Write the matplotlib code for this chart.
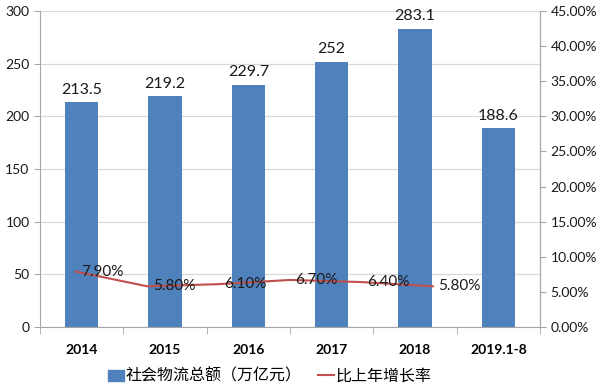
import matplotlib
matplotlib.use("Agg")
import matplotlib.pyplot as plt
from matplotlib.lines import Line2D
from matplotlib.patches import Patch
import numpy as np

plt.rcParams['font.family'] = ['Lato', 'Noto Sans CJK SC', 'DejaVu Sans']

categories = ['2014', '2015', '2016', '2017', '2018', '2019.1-8']
totals = [213.5, 219.2, 229.7, 252, 283.1, 188.6]
total_labels = ['213.5', '219.2', '229.7', '252', '283.1', '188.6']
growth = [7.90, 5.80, 6.10, 6.70, 6.40, 5.80]
bar_name = '社会物流总额（万亿元）'
line_name = '比上年增长率'

bar_color = '#4F81BD'
line_color = '#C0504D'
grid_color = '#D9D9D9'
axis_color = '#A6A6A6'

fig = plt.figure(figsize=(6, 3.9), dpi=100)
ax = fig.add_axes([40/600, 1-327/390, 500/600, 316/390])
x = np.arange(len(categories))
ax.bar(x, totals, width=0.4, color=bar_color, zorder=2)
for xi, v, lab in zip(x, totals, total_labels):
    ax.annotate(lab, (xi, v), xytext=(0, 4), textcoords='offset points',
                ha='center', va='bottom', fontsize=11.5, color='#1a1a1a')
ax.set_xlim(-0.5, len(categories)-0.5)
ax.set_ylim(0, 300)
ax.set_yticks(range(0, 301, 50))
ax.yaxis.grid(True, color=grid_color, lw=0.9, zorder=0)
ax.set_axisbelow(True)
ax.set_xticks(x)
ax.set_xticklabels(categories, fontsize=10, fontweight='bold')
ax.set_xticks(np.arange(-0.5, len(categories), 1), minor=True)
ax.tick_params(axis='x', which='major', length=0, pad=12)
ax.tick_params(axis='x', which='minor', length=5, color=axis_color)
ax.tick_params(axis='y', length=4, color=axis_color, labelsize=10, labelcolor='#1a1a1a')
for s in ['top', 'right']:
    ax.spines[s].set_visible(False)
ax.spines['left'].set_color(axis_color)
ax.spines['bottom'].set_color(axis_color)

ax2 = ax.twinx()
ax3 = ax2.twiny()
ax3.plot(np.arange(len(growth)), np.array(growth)/100, color=line_color, lw=1.5)
ax3.set_xlim(-0.5, 6.5)
ax3.xaxis.set_visible(False)
for xi, g in zip(range(len(growth)), growth):
    ax3.annotate(f'{g:.2f}%', (xi, g/100), xytext=(4, 0), textcoords='offset points',
                 ha='left', va='center', fontsize=11, color='#1a1a1a')
ax2.set_ylim(0, 0.45)
ax2.set_yticks(np.arange(0, 0.4501, 0.05))
ax2.set_yticklabels([f'{v*100:.2f}%' for v in np.arange(0, 0.4501, 0.05)])
ax2.tick_params(axis='y', length=4, color=axis_color, labelsize=10, labelcolor='#1a1a1a')
for a in (ax2, ax3):
    for s in ['top', 'left', 'bottom']:
        a.spines[s].set_visible(False)
    a.spines['right'].set_color(axis_color)

handles = [Patch(color=bar_color), Line2D([0], [0], color=line_color, lw=1.5)]
fig.legend(handles, [bar_name, line_name], loc='center', bbox_to_anchor=(270/600, 1-376/390),
           ncol=2, frameon=False, fontsize=11.5, handlelength=1.0, handletextpad=0.1,
           columnspacing=1.0)

fig.savefig('out.png', dpi=100)
